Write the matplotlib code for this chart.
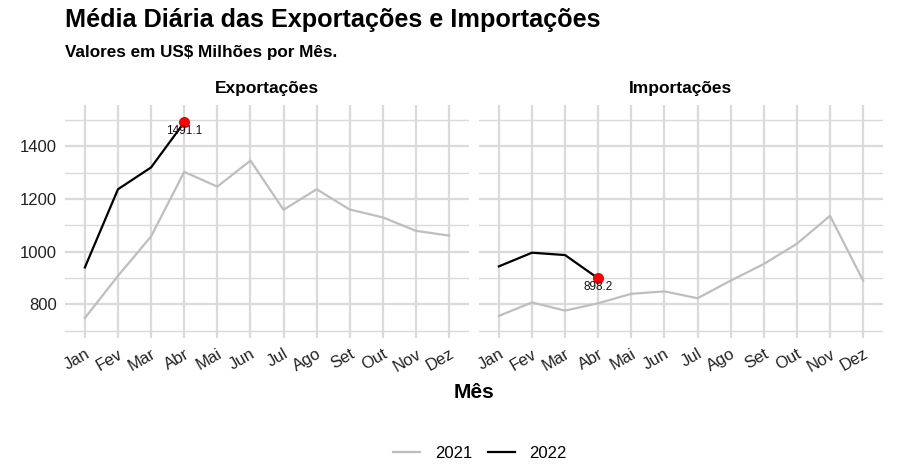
import matplotlib.pyplot as plt
from matplotlib.lines import Line2D
from matplotlib.ticker import MultipleLocator

plt.rcParams['font.family'] = ['Liberation Sans', 'DejaVu Sans']

meses = ["Jan", "Fev", "Mar", "Abr", "Mai", "Jun", "Jul", "Ago", "Set", "Out", "Nov", "Dez"]

exp_2021 = [748, 908, 1058, 1303, 1247, 1346, 1159, 1237, 1160, 1130, 1079, 1061]
exp_2022 = [940, 1237, 1320, 1491.1]
imp_2021 = [756, 807, 776, 804, 840, 849, 823, 890, 953, 1030, 1136, 890]
imp_2022 = [944, 996, 987, 898.2]

paineis = [("Exportações", exp_2021, exp_2022), ("Importações", imp_2021, imp_2022)]

W, H = 911, 474
fig = plt.figure(figsize=(W / 100, H / 100), dpi=100)

cor_2021 = "#BEBEBE"
cor_2022 = "#000000"
cor_grid = "#DADADA"

ax_left = [65, 479]
for i, (titulo, v21, v22) in enumerate(paineis):
    ax = fig.add_axes([ax_left[i] / W, 1 - 338 / H, 404 / W, (338 - 105) / H])
    x21 = list(range(len(v21)))
    x22 = list(range(len(v22)))
    ax.plot(x21, v21, color=cor_2021, lw=1.6, zorder=3)
    ax.plot(x22, v22, color=cor_2022, lw=1.6, zorder=4)
    ax.plot(x22[-1], v22[-1], 'o', color="red", ms=7, zorder=5)
    ax.annotate(f"{v22[-1]:.1f}", (x22[-1], v22[-1]), xytext=(0, -6.5),
                textcoords="offset points", ha="center", va="center",
                fontsize=8.5, color="#111111", zorder=6)
    ax.set_xlim(-0.6, 11.6)
    ax.set_ylim(672, 1557)
    ax.set_xticks(range(12))
    ax.set_xticklabels(meses, rotation=30, ha="right", va="top",
                       rotation_mode="anchor", fontsize=12, color="#222222")
    ax.yaxis.set_major_locator(MultipleLocator(200))
    ax.yaxis.set_minor_locator(MultipleLocator(100))
    ax.grid(True, which="major", color=cor_grid, lw=1.6)
    ax.grid(True, which="minor", axis="y", color=cor_grid, lw=1.0)
    ax.tick_params(which="both", length=0, pad=6)
    ax.tick_params(axis="y", labelsize=12, labelcolor="#222222")
    if i == 1:
        ax.tick_params(axis="y", labelleft=False)
    for s in ax.spines.values():
        s.set_visible(False)
    ax.set_axisbelow(True)
    ax.set_title(titulo, fontsize=12.5, fontweight="bold", pad=9)

fig.text(65 / W, 1 - 27 / H, "Média Diária das Exportações e Importações",
         fontsize=18.2, fontweight="bold", ha="left", va="baseline")
fig.text(65 / W, 1 - 57 / H, "Valores em US$ Milhões por Mês.",
         fontsize=12.3, fontweight="bold", ha="left", va="baseline")
fig.text(474 / W, 1 - 393 / H, "Mês", fontsize=15, fontweight="bold",
         ha="center", va="center")

handles = [Line2D([], [], color=cor_2021, lw=1.6), Line2D([], [], color=cor_2022, lw=1.6)]
fig.legend(handles, ["2021", "2022"], loc="center", bbox_to_anchor=(480 / W, 1 - 453 / H),
           ncol=2, frameon=False, fontsize=12, handlelength=1.6, columnspacing=0.95,
           handletextpad=0.9)

fig.savefig("out.png", dpi=100)
